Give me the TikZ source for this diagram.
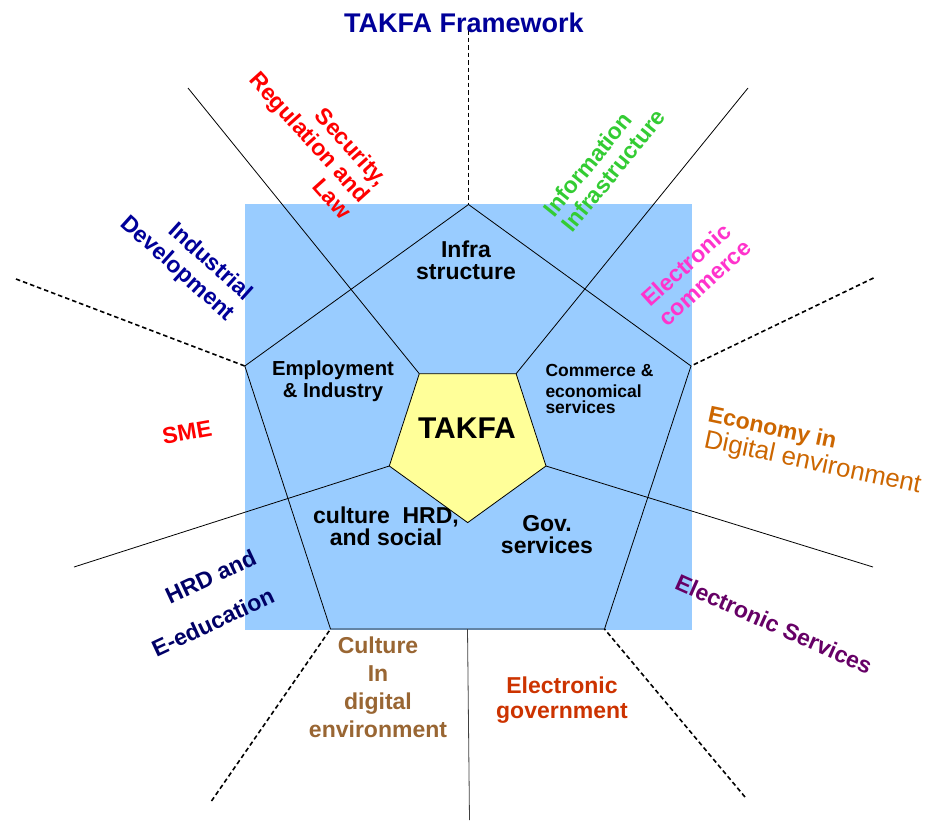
\documentclass[tikz,border=0pt]{standalone}
\usepackage{fontspec}
\setmainfont{Liberation Sans}
\usetikzlibrary{positioning,calc}
\definecolor{panelblue}{RGB}{153,204,255}
\definecolor{coreyellow}{RGB}{255,255,153}
\definecolor{framenavy}{RGB}{0,0,153}
\definecolor{hrdnavy}{RGB}{0,0,102}
\definecolor{infogreen}{RGB}{51,204,51}
\definecolor{commpink}{RGB}{255,51,204}
\definecolor{econorange}{RGB}{204,102,0}
\definecolor{cultbrown}{RGB}{153,102,51}
\definecolor{govred}{RGB}{204,51,0}
\definecolor{servpurple}{RGB}{102,0,102}

\begin{document}
\begin{tikzpicture}[x=1pt, y=-1pt,
  pentline/.style={draw=black, line width=0.8pt},
  spoke/.style={draw=black, line width=0.8pt},
  rim/.style={draw=black, line width=1.6pt, dash pattern=on 4.5pt off 3pt},
  area/.style={inner sep=0pt, align=center, font=\bfseries\fontsize{23}{22}\selectfont},
  outlbl/.style={inner sep=0pt, font=\bfseries\fontsize{23}{25}\selectfont}
]
  \useasboundingbox (0,0) rectangle (931,820);

  % Background panel
  \fill[panelblue] (244.5,204) rectangle (692,629.5);

  % Outer pentagon
  \coordinate (otop) at (468.5,204.5);
  \coordinate (oright) at (691,366);
  \coordinate (obr) at (604.5,629);
  \coordinate (obl) at (330.5,629);
  \coordinate (oleft) at (244.8,366);
  \draw[pentline] (otop) -- (oright) -- (obr) -- (obl) -- (oleft) -- cycle;

  % Inner pentagon corners
  \coordinate (itl) at (419.3,373.7);
  \coordinate (itr) at (516.1,373.7);
  \coordinate (iright) at (546,466);
  \coordinate (ibot) at (467.7,522.6);
  \coordinate (ileft) at (389.3,466);

  % Spokes
  \coordinate (snw) at (188,88);
  \coordinate (sne) at (748,88);
  \coordinate (se) at (873,567);
  \coordinate (sw) at (74,567);
  \coordinate (ss) at (469.5,820);
  \foreach \a/\b in {snw/itl, sne/itr, se/iright, sw/ileft}
    \draw[spoke] (\a) -- (\b);
  \draw[spoke, draw=black!75] ($(obl)!0.5!(obr)$) -- (ss);

  % Dashed rim lines
  \coordinate (dn) at (468.5,30);
  \coordinate (de) at (873.5,278);
  \coordinate (dw) at (16,279);
  \coordinate (dsw) at (211.5,801);
  \coordinate (dse) at (745,797);
  \foreach \a/\b in {dn/otop, de/oright, dw/oleft, dsw/obl, dse/obr}
    \draw[rim] (\a) -- (\b);

  % Core
  \draw[pentline, fill=coreyellow] (itl) -- (itr) -- (iright) -- (ibot) -- (ileft) -- cycle;

  % Area texts
  \node[area] (infra) at (466,260) {Infra\\structure};
  \node[area, font=\bfseries\fontsize{20.3}{22}\selectfont] (employ) at (333,381) {Employment\\\& Industry};
  \node[area, align=left, anchor=north west, font=\bfseries\fontsize{17.5}{16}\selectfont] (commerce) at (545.3,364.5) {Commerce \&\\[5pt]economical\\services};
  \node[area, font=\bfseries\fontsize{30}{30}\selectfont] (core) at (467,428) {TAKFA};
  \node[area, font=\bfseries\fontsize{23}{22.3}\selectfont] (culture) at (386,526) {culture\ \ HRD,\\and social};
  \node[area] (gov) at (547,535) {Gov.\\services};

  % Outer labels
  \node[outlbl, text=framenavy, font=\bfseries\fontsize{27}{28}\selectfont] (title) at (464,22.5) {TAKFA Framework};
  \node[outlbl, text=red, align=right, rotate=-48, font=\bfseries\fontsize{23}{24.7}\selectfont] (security) at (310,137) {Security,\\Regulation and\\Law};
  \node[outlbl, text=framenavy, align=right, rotate=-42, font=\bfseries\fontsize{23}{27}\selectfont] (industrial) at (186,259) {Industrial\\Development};
  \node[outlbl, text=infogreen, align=left, rotate=51, font=\bfseries\fontsize{23}{24}\selectfont] (information) at (604,163) {Information\\Infrastructure};
  \node[outlbl, text=commpink, align=left, rotate=42, font=\bfseries\fontsize{23}{26}\selectfont] (ecommerce) at (696,273) {Electronic\\commerce};
  \node[outlbl, text=econorange, anchor=base west, rotate=-12] (economy) at (707,421.5) {Economy in};
  \node[outlbl, text=econorange, anchor=base west, rotate=-12, font=\fontsize{25.8}{26}\selectfont] (digital) at (703,447) {Digital environment};
  \node[outlbl, text=red, rotate=10] (sme) at (187,432) {SME};
  \node[outlbl, text=hrdnavy, align=right, rotate=25, font=\bfseries\fontsize{23}{42}\selectfont] (hrd) at (204,603) {HRD and\\E-education};
  \node[outlbl, text=cultbrown, align=center, font=\bfseries\fontsize{23}{28}\selectfont] (cultout) at (378,687) {Culture\\In\\digital\\environment};
  \node[outlbl, text=govred, align=center] (egov) at (562,700) {Electronic\\government};
  \node[outlbl, text=servpurple, rotate=-24] (eserv) at (774,624) {Electronic Services};
\end{tikzpicture}
\end{document}
